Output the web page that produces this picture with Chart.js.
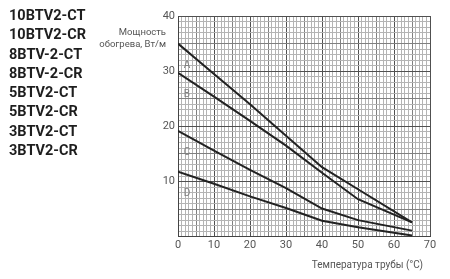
<!DOCTYPE html>
<html><head><meta charset="utf-8">
<script src="https://cdn.jsdelivr.net/npm/chart.js@4/dist/chart.umd.min.js"></script>
<style>
html,body{margin:0;padding:0;background:#fff;}
#wrap{position:relative;width:450px;height:279px;}
#list{position:absolute;left:9px;top:6px;font-family:Roboto,sans-serif;font-weight:bold;font-size:14.5px;line-height:19.3px;color:#1e1e1e;}
canvas{position:absolute;left:0;top:0;}
</style></head>
<body><div id="wrap"><canvas id="c" width="450" height="279"></canvas>
<div id="list"></div></div>
<script>
const models = ["10BTV2-CT","10BTV2-CR","8BTV-2-CT","8BTV-2-CR","5BTV2-CT","5BTV2-CR","3BTV2-CT","3BTV2-CR"];
const temps = [0,10,20,30,40,50,65];
const seriesA = [35,29.5,24,18.3,12.6,8.6,2.6];
const seriesB = [29.7,25.4,21,16.5,11.6,6.8,2.6];
const seriesC = [19.2,15.6,12.1,8.8,5.1,3.0,1.1];
const seriesD = [11.8,9.6,7.3,5.2,2.9,1.7,0.2];
const curveNames = ["A","B","C","D"];
const yTitle = ["Мощность","обогрева, Вт/м"];
const xTitle = "Температура трубы (°C)";

document.getElementById('list').innerHTML = models.map(m=>'<div>'+m+'</div>').join('');

function pts(arr){return temps.map((t,i)=>({x:t,y:arr[i]}));}
const all=[seriesA,seriesB,seriesC,seriesD];
const datasets = all.map((s,i)=>({label:curveNames[i],data:pts(s),borderColor:'#222',borderWidth:2,pointRadius:0,tension:0,fill:false}));

function gridCol(ctx){
  const v=ctx.tick?ctx.tick.value:0;
  if(Math.round(v)%10===0) return '#505050';
  if(Math.round(v)%5===0) return '#808080';
  return '#b4b4b4';
}

const textPlugin={id:'txt',afterDraw(chart){
  const c=chart.ctx, a=chart.chartArea, xs=chart.scales.x, ys=chart.scales.y;
  c.save();
  c.fillStyle='#808080';c.font='10px Roboto, sans-serif';c.textAlign='left';c.textBaseline='middle';
  all.forEach((s,i)=>{
    c.fillText(curveNames[i], xs.getPixelForValue(1.6), ys.getPixelForValue(s[0]-3.9));
  });
  c.fillStyle='#555';c.font='9.5px Roboto, sans-serif';c.textAlign='right';
  c.fillText(yTitle[0], 166, 33);
  c.fillText(yTitle[1], 166, 44.5);
  c.font='10px Roboto, sans-serif';
  c.fillText(xTitle, 423, 265);
  c.restore();
}};

new Chart(document.getElementById('c'),{
  type:'line',
  data:{datasets},
  options:{
    responsive:false,animation:false,
    layout:{padding:{top:16,right:20,left:0,bottom:0}},
    plugins:{legend:{display:false},tooltip:{enabled:false}},
    scales:{
      x:{type:'linear',min:0,max:70,
        afterFit(s){s.height=42.3;},
        grid:{color:gridCol,drawTicks:false,lineWidth:1},
        border:{display:true,color:'#444',width:1},
        ticks:{stepSize:1,autoSkip:false,maxRotation:0,padding:2,color:'#555',font:{family:'Roboto',size:11},
          callback:(v)=> (v%10===0? String(v):'')}},
      y:{type:'linear',min:0,max:40,
        afterFit(s){s.width=178;},
        grid:{color:gridCol,drawTicks:false,lineWidth:1},
        border:{display:true,color:'#444',width:1},
        ticks:{stepSize:1,autoSkip:false,padding:3,color:'#555',font:{family:'Roboto',size:11},
          callback:(v)=> (v%10===0 && v>0? String(v):'')}}
    }
  },
  plugins:[textPlugin]
});
</script></body></html>
